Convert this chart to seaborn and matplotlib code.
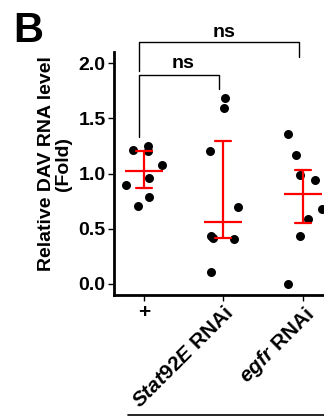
import numpy as np
import pandas as pd
import matplotlib.pyplot as plt
import seaborn as sns
from matplotlib.lines import Line2D

# Relative DAV RNA level per fly sample
groups = ["+", "Stat92E RNAi", "egfr RNAi"]
tick_labels = ["+", r"$\it{Stat92E}$ RNAi", r"$\it{egfr}$ RNAi"]

ctrl_vals = [1.21, 1.25, 1.20, 1.08, 0.90, 0.96, 0.79, 0.71]
stat_vals = [1.68, 1.59, 1.20, 0.70, 0.43, 0.42, 0.41, 0.11]
egfr_vals = [1.36, 1.17, 0.99, 0.94, 0.68, 0.59, 0.43, 0.00]

# horizontal scatter of each dot, in category widths
ctrl_jit = [-0.14, 0.05, 0.05, 0.23, -0.23, 0.06, 0.06, -0.07]
stat_jit = [0.02, 0.01, -0.17, 0.19, -0.16, -0.13, 0.13, -0.16]
egfr_jit = [-0.19, -0.09, -0.04, 0.15, 0.24, 0.06, -0.03, -0.18]

rows = []
for gi, (vals, jit) in enumerate([(ctrl_vals, ctrl_jit), (stat_vals, stat_jit), (egfr_vals, egfr_jit)]):
    for v, j in zip(vals, jit):
        rows.append({"group": gi, "pos": gi + j, "value": v})
df = pd.DataFrame(rows)

sns.set_theme(style="ticks")
plt.rcParams["font.family"] = ["Liberation Sans", "DejaVu Sans"]
plt.rcParams["font.weight"] = "bold"
plt.rcParams["text.color"] = "black"
plt.rcParams["axes.labelcolor"] = "black"
plt.rcParams["xtick.color"] = "black"
plt.rcParams["ytick.color"] = "black"
plt.rcParams["mathtext.fontset"] = "custom"
plt.rcParams["mathtext.it"] = "Liberation Sans:italic:bold"
plt.rcParams["mathtext.rm"] = "Liberation Sans:bold"

fig = plt.figure(figsize=(3.24, 4.17), dpi=100)
ax = fig.add_axes([114 / 324, 1 - 295 / 417, 210 / 324, 243 / 417])

sns.scatterplot(data=df, x="pos", y="value", color="black", s=42, linewidth=0,
                legend=False, ax=ax, zorder=3, clip_on=False)

# median with interquartile range
sns.pointplot(data=df, x="group", y="value", native_scale=True, estimator="median",
              errorbar=("pi", 50), capsize=0.2, color="red", linestyle="none",
              marker="_", markersize=28, markeredgewidth=1.6,
              err_kws={"linewidth": 1.6, "zorder": 4}, ax=ax, zorder=4)

ax.set_xlim(-0.375, 2.267)
ax.set_ylim(-0.1, 2.1)
ax.set_yticks([0, 0.5, 1.0, 1.5, 2.0])
ax.set_yticklabels([f"{t:.1f}" for t in [0, 0.5, 1.0, 1.5, 2.0]], fontsize=14, fontweight="bold")
ax.set_xticks([0, 1, 2])
ax.set_xticklabels(tick_labels, rotation=45, ha="right", rotation_mode="anchor",
                   fontsize=15, fontweight="bold")
plus = ax.get_xticklabels()[0]
plus.set_rotation(0)
plus.set_ha("center")
ax.set_xlabel("")
ax.set_ylabel("Relative DAV RNA level\n(Fold)", fontsize=14, fontweight="bold", linespacing=1.0)
ax.yaxis.set_label_coords(-0.2, 0.54)

for s in ["top", "right"]:
    ax.spines[s].set_visible(False)
for s in ["left", "bottom"]:
    ax.spines[s].set_linewidth(2)
    ax.spines[s].set_color("black")
ax.tick_params(axis="both", length=4, width=1, colors="black", pad=2)

# significance brackets
kw = dict(color="black", lw=1.0, clip_on=False)
ax.plot([-0.06, -0.06, 1.95, 1.95], [1.93, 2.187, 2.187, 2.057], **kw)
ax.plot([-0.06, -0.06, 0.95, 0.95], [1.33, 1.891, 1.891, 1.762], **kw)
ax.text(1.01, 2.235, "ns", ha="center", va="baseline", fontsize=14, fontweight="bold")
ax.text(0.49, 1.955, "ns", ha="center", va="baseline", fontsize=14, fontweight="bold")

fig.text(13 / 324, 1 - 42 / 417, "B", fontsize=30, fontweight="bold", ha="left", va="baseline")
fig.add_artist(Line2D([128 / 324, 1.0], [1 - 415 / 417] * 2, color="black", lw=1.2,
                      transform=fig.transFigure))

fig.savefig("out.png", dpi=100)
